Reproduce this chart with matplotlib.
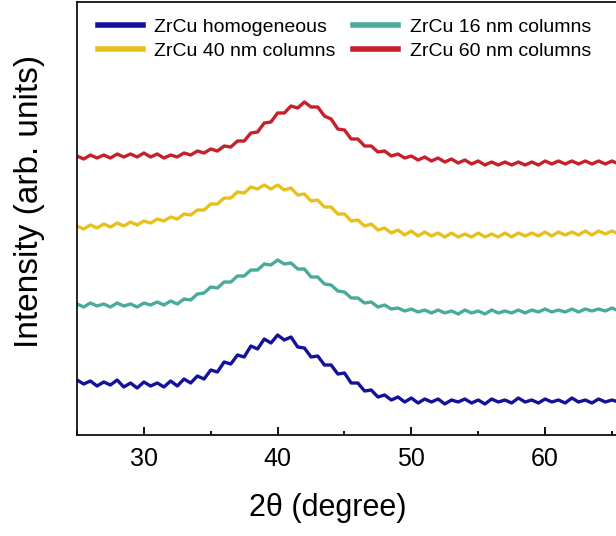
import numpy as np
import matplotlib
matplotlib.use("Agg")
import matplotlib.pyplot as plt
from matplotlib.ticker import MultipleLocator

plt.rcParams['font.family'] = ['Liberation Sans', 'DejaVu Sans']

# 2theta grid (degree), 0.5 deg steps
two_theta = np.arange(25.0, 66.0, 0.5)

# intensities (arb. units, offsets included)
homogeneous = [55, 51, 54, 49, 53, 50, 55, 48, 52, 47, 53, 49, 52, 48, 54, 49,
               56, 52, 59, 56, 65, 63, 73, 71, 80, 78, 89, 86, 96, 92, 100, 95,
               98, 88, 87, 78, 79, 70, 70, 61, 62, 52, 52, 44, 45, 38, 40, 35,
               38, 33, 37, 32, 36, 33, 36, 31, 35, 33, 36, 32, 35, 31, 36, 33,
               35, 32, 37, 33, 35, 32, 36, 33, 35, 32, 37, 33, 35, 32, 36, 33,
               35, 33]
col16 = [131, 128, 132, 129, 131, 128, 132, 129, 131, 128, 132, 130, 133, 130,
         134, 131, 136, 135, 141, 142, 148, 147, 153, 153, 159, 159, 165, 165,
         171, 170, 175, 171, 172, 166, 166, 158, 158, 151, 150, 144, 143, 137,
         137, 132, 133, 128, 130, 126, 127, 124, 126, 123, 125, 122, 125, 122,
         124, 121, 125, 122, 124, 121, 125, 122, 124, 122, 125, 122, 125, 123,
         126, 123, 125, 123, 126, 123, 126, 124, 126, 124, 127, 124]
col40 = [209, 206, 210, 207, 211, 208, 212, 209, 213, 210, 214, 212, 216, 214,
         218, 216, 221, 220, 225, 225, 231, 231, 237, 237, 243, 242, 248, 246,
         250, 246, 250, 245, 247, 240, 241, 234, 235, 228, 228, 221, 221, 214,
         215, 209, 211, 205, 207, 202, 205, 200, 204, 199, 203, 199, 202, 198,
         202, 198, 201, 198, 202, 198, 201, 198, 202, 198, 202, 199, 202, 199,
         203, 199, 203, 200, 203, 200, 204, 200, 204, 201, 204, 201]
col60 = [279, 276, 280, 277, 280, 277, 281, 278, 281, 278, 282, 278, 281, 277,
         280, 278, 282, 280, 284, 282, 286, 284, 289, 288, 294, 294, 302, 303,
         312, 313, 322, 322, 329, 327, 333, 328, 328, 319, 316, 306, 305, 296,
         296, 289, 289, 283, 284, 279, 281, 277, 279, 275, 278, 274, 277, 273,
         276, 272, 275, 271, 274, 270, 273, 270, 273, 270, 273, 270, 273, 270,
         274, 271, 274, 271, 274, 271, 274, 271, 274, 271, 274, 271]

labels = ["ZrCu homogeneous", "ZrCu 40 nm columns",
          "ZrCu 16 nm columns", "ZrCu 60 nm columns"]
series = [homogeneous, col40, col16, col60]
colors = ["#13139a", "#e8c01c", "#4aab9c", "#c7202b"]

fig = plt.figure(figsize=(6.16, 5.36), dpi=100)
ax = fig.add_axes([77/616, 1 - 435/536, 1 - 77/616, 433/536])

for y, lab, c in zip(series, labels, colors):
    ax.plot(two_theta, y, color=c, lw=2.4, label=lab)

ax.set_xlim(25, 65.3)
ax.set_ylim(0, 433)
ax.xaxis.set_major_locator(MultipleLocator(10))
ax.xaxis.set_minor_locator(MultipleLocator(5))
ax.tick_params(axis='x', which='major', direction='in', length=6, width=1.3,
               labelsize=18, pad=9)
ax.tick_params(axis='x', which='minor', direction='in', length=3, width=1.3)
ax.set_yticks([])
ax.spines['right'].set_visible(False)
for s in ['left', 'top', 'bottom']:
    ax.spines[s].set_linewidth(1.3)
    ax.spines[s].set_color('#111111')

ax.set_xlabel("2θ (degree)", fontsize=22)
ax.set_ylabel("Intensity (arb. units)", fontsize=24)
ax.xaxis.set_label_coords(0.466, -0.135)
ax.yaxis.set_label_coords(-0.06, 0.54)

leg = ax.legend(loc='upper left', bbox_to_anchor=(21/539, 0.962), ncol=2,
                frameon=False, fontsize=14, handlelength=2.3,
                handletextpad=0.6, columnspacing=0.9, labelspacing=0.3,
                borderpad=0, borderaxespad=0)
for h in leg.get_lines():
    h.set_linewidth(4)

fig.savefig("out.png", dpi=100)
